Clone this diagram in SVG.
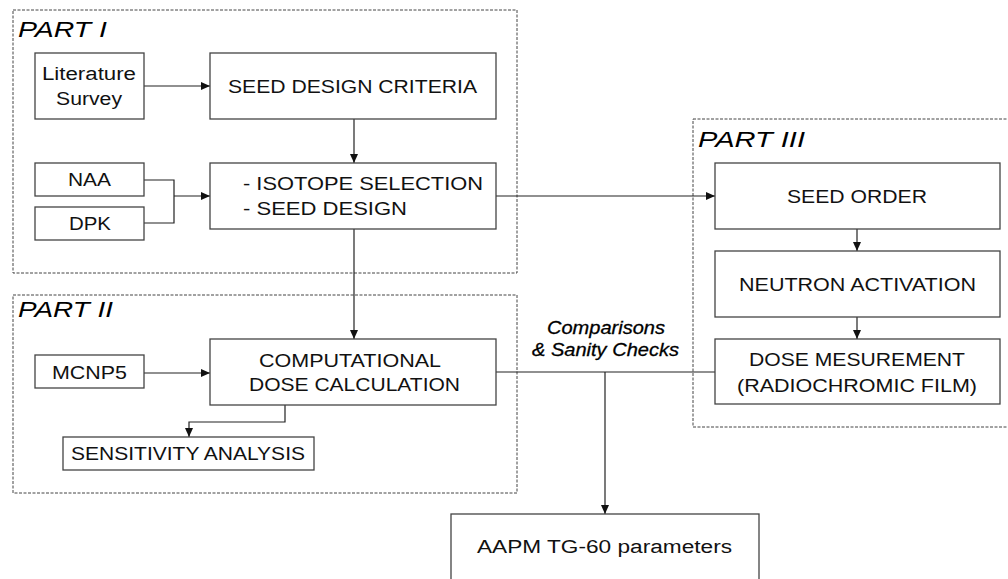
<svg xmlns="http://www.w3.org/2000/svg" width="1008" height="579" viewBox="0 0 1008 579">
  <style>
    .part { fill: none; stroke: #444; stroke-width: 1; stroke-dasharray: 3 1.5; }
    .box { fill: #fff; stroke: #444; stroke-width: 1.3; }
    .lbl { font-family: "Liberation Sans", Arial, sans-serif; font-size: 18px; fill: #111; }
    .ttl { font-family: "Liberation Sans", Arial, sans-serif; font-size: 22px; font-style: italic; fill: #000; }
    .note { font-family: "Liberation Sans", Arial, sans-serif; font-size: 18px; font-style: italic; fill: #000; stroke: #000; stroke-width: 0.3; }
    .wire { fill: none; stroke: #222; stroke-width: 1.2; }
  </style>
  <defs>
    <marker id="arrow" markerWidth="9" markerHeight="8" refX="9" refY="4" orient="auto" markerUnits="userSpaceOnUse">
      <path d="M0,0 L9,4 L0,8 Z" fill="#111"/>
    </marker>
  </defs>

  <rect width="1008" height="579" fill="#fff"/>

  <!-- grouping frames -->
  <g id="part1">
    <rect class="part" x="13" y="10" width="504" height="263"/>
    <text class="ttl" x="18" y="37" textLength="89" lengthAdjust="spacingAndGlyphs">PART I</text>
  </g>
  <g id="part2">
    <rect class="part" x="13" y="295" width="504" height="198"/>
    <text class="ttl" x="18" y="317" textLength="95" lengthAdjust="spacingAndGlyphs">PART II</text>
  </g>
  <g id="part3">
    <rect class="part" x="693" y="119" width="320" height="308"/>
    <text class="ttl" x="698" y="147" textLength="107" lengthAdjust="spacingAndGlyphs">PART III</text>
  </g>

  <!-- connectors -->
  <g id="connectors">
    <path class="wire" d="M144,86 H210" marker-end="url(#arrow)"/>
    <path class="wire" d="M354,119 V163" marker-end="url(#arrow)"/>
    <path class="wire" d="M144,180 H174 V223 H144"/>
    <path class="wire" d="M174,196 H210" marker-end="url(#arrow)"/>
    <path class="wire" d="M496,196 H715" marker-end="url(#arrow)"/>
    <path class="wire" d="M354,229 V339" marker-end="url(#arrow)"/>
    <path class="wire" d="M144,373 H210" marker-end="url(#arrow)"/>
    <path class="wire" d="M285,405 V422 H189 V437" marker-end="url(#arrow)"/>
    <path class="wire" d="M857,229 V251" marker-end="url(#arrow)"/>
    <path class="wire" d="M857,317 V339" marker-end="url(#arrow)"/>
    <path class="wire" d="M496,372 H715"/>
    <path class="wire" d="M605,372 V514" marker-end="url(#arrow)"/>
    <text class="note" x="547" y="334" textLength="118" lengthAdjust="spacingAndGlyphs">Comparisons</text>
    <text class="note" x="532" y="356" textLength="147" lengthAdjust="spacingAndGlyphs">&amp; Sanity Checks</text>
  </g>

  <!-- nodes -->
  <g id="literature">
    <rect class="box" x="35" y="53" width="109" height="66"/>
    <text class="lbl" x="42" y="80" textLength="94" lengthAdjust="spacingAndGlyphs">Literature</text>
    <text class="lbl" x="56" y="105" textLength="66" lengthAdjust="spacingAndGlyphs">Survey</text>
  </g>
  <g id="criteria">
    <rect class="box" x="210" y="53" width="286" height="66"/>
    <text class="lbl" x="228" y="93" textLength="249" lengthAdjust="spacingAndGlyphs">SEED DESIGN CRITERIA</text>
  </g>
  <g id="naa">
    <rect class="box" x="35" y="163" width="109" height="33"/>
    <text class="lbl" x="68" y="186" textLength="43" lengthAdjust="spacingAndGlyphs">NAA</text>
  </g>
  <g id="dpk">
    <rect class="box" x="35" y="207" width="109" height="33"/>
    <text class="lbl" x="69" y="230" textLength="42" lengthAdjust="spacingAndGlyphs">DPK</text>
  </g>
  <g id="isotope">
    <rect class="box" x="210" y="163" width="286" height="66"/>
    <text class="lbl" x="243" y="190" textLength="240" lengthAdjust="spacingAndGlyphs">- ISOTOPE SELECTION</text>
    <text class="lbl" x="243" y="215" textLength="164" lengthAdjust="spacingAndGlyphs">- SEED DESIGN</text>
  </g>
  <g id="mcnp5">
    <rect class="box" x="35" y="355" width="109" height="33"/>
    <text class="lbl" x="52" y="379" textLength="75" lengthAdjust="spacingAndGlyphs">MCNP5</text>
  </g>
  <g id="computational">
    <rect class="box" x="210" y="339" width="286" height="66"/>
    <text class="lbl" x="259" y="367" textLength="182" lengthAdjust="spacingAndGlyphs">COMPUTATIONAL</text>
    <text class="lbl" x="249" y="391" textLength="211" lengthAdjust="spacingAndGlyphs">DOSE CALCULATION</text>
  </g>
  <g id="sensitivity">
    <rect class="box" x="63" y="437" width="251" height="33"/>
    <text class="lbl" x="71" y="460" textLength="234" lengthAdjust="spacingAndGlyphs">SENSITIVITY ANALYSIS</text>
  </g>
  <g id="seed-order">
    <rect class="box" x="715" y="163" width="285" height="66"/>
    <text class="lbl" x="787" y="203" textLength="140" lengthAdjust="spacingAndGlyphs">SEED ORDER</text>
  </g>
  <g id="activation">
    <rect class="box" x="715" y="251" width="285" height="66"/>
    <text class="lbl" x="739" y="291" textLength="237" lengthAdjust="spacingAndGlyphs">NEUTRON ACTIVATION</text>
  </g>
  <g id="measurement">
    <rect class="box" x="715" y="339" width="285" height="65"/>
    <text class="lbl" x="749" y="366" textLength="216" lengthAdjust="spacingAndGlyphs">DOSE MESUREMENT</text>
    <text class="lbl" x="737" y="392" textLength="240" lengthAdjust="spacingAndGlyphs">(RADIOCHROMIC FILM)</text>
  </g>
  <g id="tg60">
    <rect class="box" x="451" y="514" width="308" height="80"/>
    <text class="lbl" x="477" y="553" textLength="255" lengthAdjust="spacingAndGlyphs">AAPM TG-60 parameters</text>
  </g>
</svg>
